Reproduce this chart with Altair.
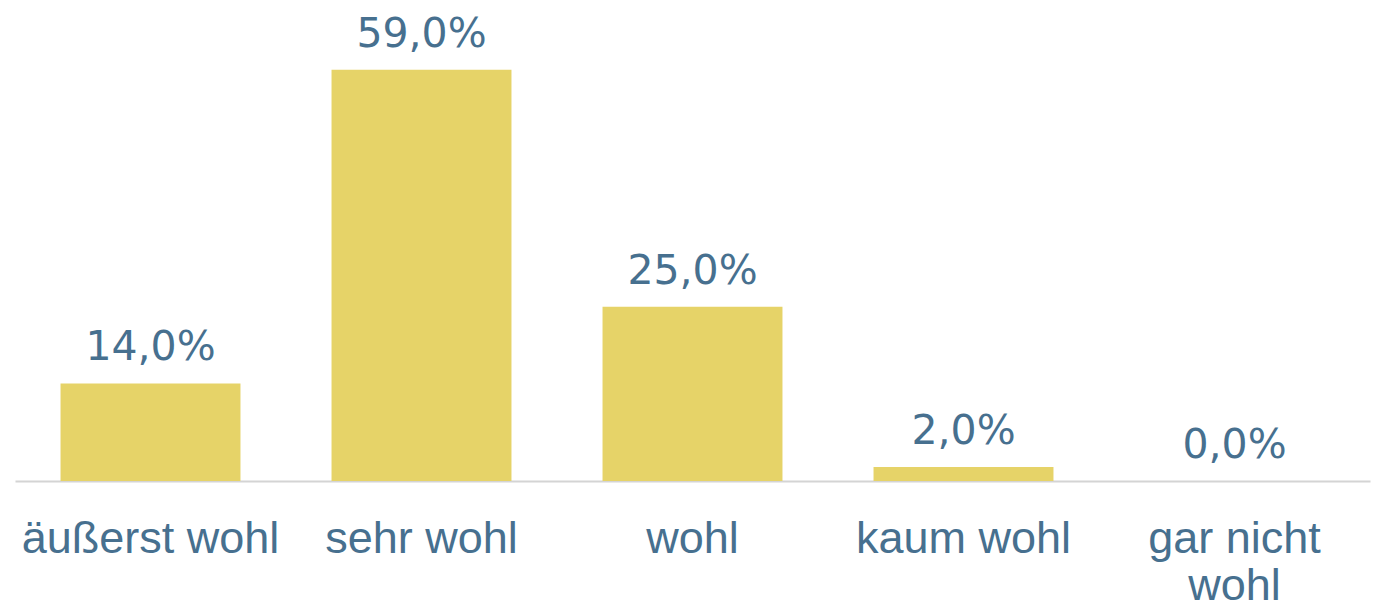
import altair as alt
import pandas as pd

categories = ["äußerst wohl", "sehr wohl", "wohl", "kaum wohl", "gar nicht wohl"]
values = [14.0, 59.0, 25.0, 2.0, 0.0]
labels = ["14,0%", "59,0%", "25,0%", "2,0%", "0,0%"]

df = pd.DataFrame({"cat": categories, "val": values, "lab": labels})

TEXT = "#47708F"
BAR = "#E6D368"

x = alt.X(
    "cat:N",
    sort=categories,
    title=None,
    scale=alt.Scale(paddingInner=0.336, paddingOuter=0.168),
    axis=alt.Axis(
        labelAngle=0,
        labelFont="Liberation Sans",
        labelFontSize=45,
        labelColor=TEXT,
        labelPadding=35,
        labelLineHeight=47,
        labelExpr="datum.label == 'gar nicht wohl' ? ['gar nicht', 'wohl'] : datum.label",
        ticks=False,
        domainColor="#D4D4D4",
        domainWidth=2,
        labelLimit=400,
    ),
)
y = alt.Y("val:Q", scale=alt.Scale(domain=[0, 69], nice=False), axis=None)

bars = alt.Chart(df).mark_bar(color=BAR).encode(x=x, y=y)
text = alt.Chart(df).mark_text(
    font="DejaVu Sans", fontSize=41, color=TEXT, baseline="alphabetic", dy=-23
).encode(x=alt.X("cat:N", sort=categories), y="val:Q", text="lab:N")

chart = (
    alt.layer(bars, text)
    .properties(
        width=1355,
        height=481,
        autosize=alt.AutoSizeParams(type="none"),
        padding={"left": 15, "top": 0, "right": 6, "bottom": 121},
    )
    .configure_view(stroke=None)
    .configure_axis(grid=False)
)

chart.save("out.html", embed_options={"renderer": "svg", "actions": False})
